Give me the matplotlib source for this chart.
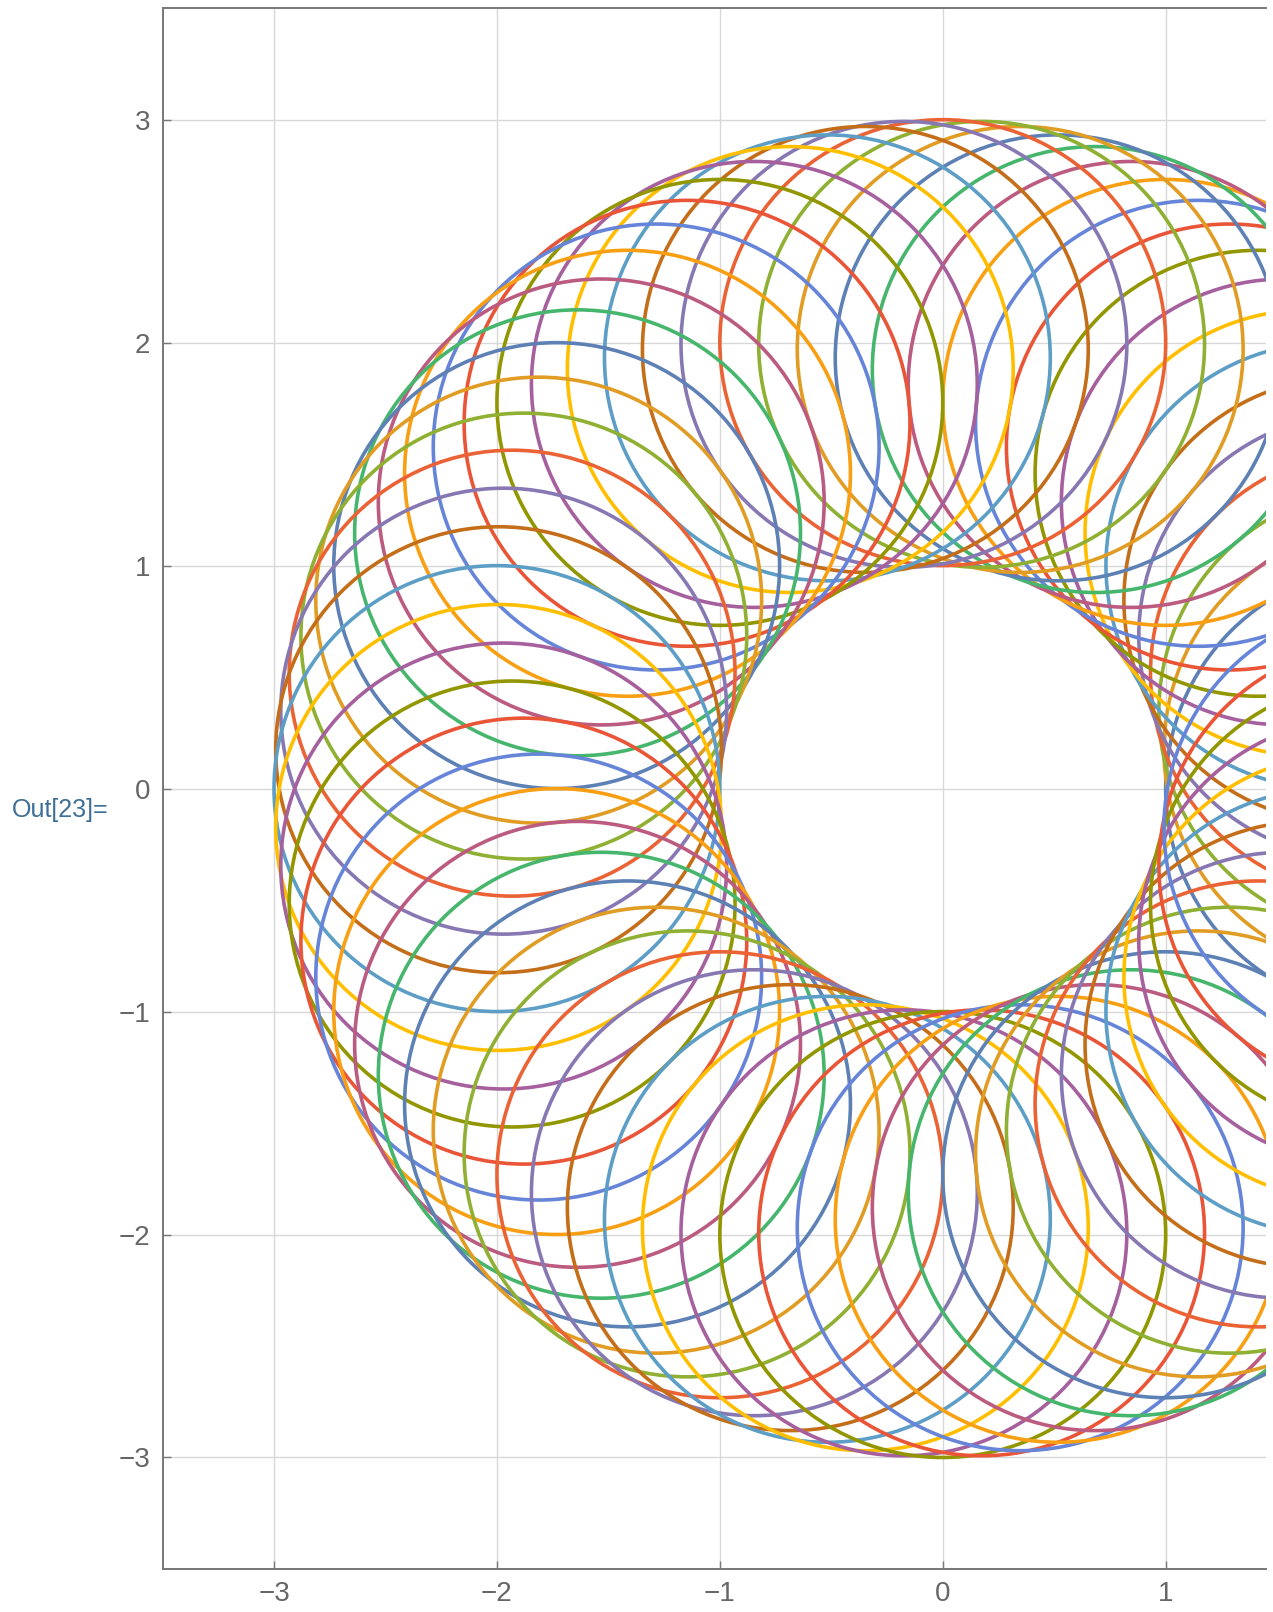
import matplotlib.pyplot as plt
from matplotlib.patches import Circle
import numpy as np

# centre angles of the small circles (degrees), radius of ring and of circles
angles_deg = [0, 5, 10, 15, 20, 25, 30, 35, 40, 45, 50, 55,
              60, 65, 70, 75, 80, 85, 90, 95, 100, 105, 110, 115,
              120, 125, 130, 135, 140, 145, 150, 155, 160, 165, 170, 175,
              180, 185, 190, 195, 200, 205, 210, 215, 220, 225, 230, 235,
              240, 245, 250, 255, 260, 265, 270, 275, 280, 285, 290, 295,
              300, 305, 310, 315, 320, 325, 330, 335, 340, 345, 350, 355]
ring_radius = 2.0
circle_radius = 1.0

# Mathematica default plot colours
palette = ['#5E81B5', '#E19C24', '#8FB032', '#EB6235', '#8778B3',
           '#C56E1A', '#5D9EC7', '#FFBF00', '#A5609D', '#929600',
           '#E95536', '#6685D9', '#F89F13', '#BC5B80', '#47B66D']

xticks = [-3, -2, -1, 0, 1]
yticks = [-3, -2, -1, 0, 1, 2, 3]

plt.rcParams['font.family'] = ['Liberation Sans', 'DejaVu Sans']

fig = plt.figure(figsize=(12.73, 16.12), dpi=100)
ax = fig.add_axes([0.1277, 0.0267, 0.9945 - 0.1277, 0.9949 - 0.0267])

for i, a in enumerate(angles_deg):
    t = np.deg2rad(a)
    c = Circle((ring_radius * np.cos(t), ring_radius * np.sin(t)), circle_radius,
               fill=False, edgecolor=palette[i % len(palette)], linewidth=2.6)
    ax.add_patch(c)

ax.set_xlim(-3.5, 1.45)
ax.set_ylim(-3.5, 3.5)

ax.set_xticks(xticks)
ax.set_yticks(yticks)
ax.set_xticklabels([str(v).replace('-', '\u2212') for v in xticks])
ax.set_yticklabels([str(v).replace('-', '\u2212') for v in yticks])
ax.grid(True, color='#d8d8d8', linewidth=1.0)
ax.set_axisbelow(True)

for s in ['left', 'bottom', 'top']:
    ax.spines[s].set_color('#777777')
    ax.spines[s].set_linewidth(1.4)
ax.spines['right'].set_visible(False)

ax.tick_params(direction='in', length=6, width=1, color='#777777',
               labelcolor='#666666', labelsize=20, pad=9)

fig.text(12 / 1273, 1 - 810 / 1612, 'Out[23]=', color='#3E6F96',
         fontsize=18, va='center', ha='left')

plt.savefig('out.png')
